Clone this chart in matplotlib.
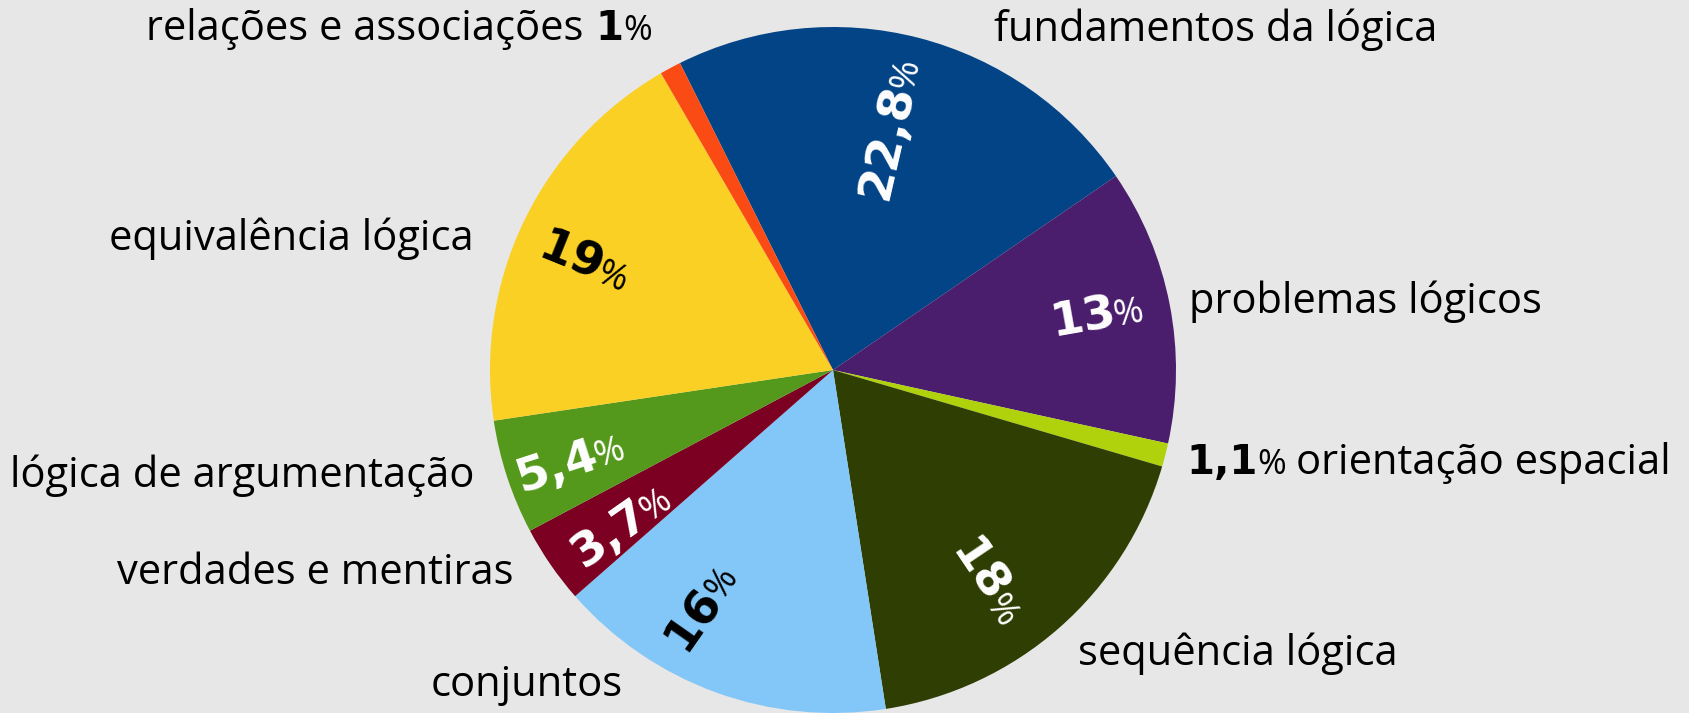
import numpy as np
import matplotlib
matplotlib.use("Agg")
import matplotlib.pyplot as plt

topics = ["fundamentos da lógica", "problemas lógicos", "orientação espacial",
          "sequência lógica", "conjuntos", "verdades e mentiras",
          "lógica de argumentação", "equivalência lógica", "relações e associações"]
shares = [22.8, 13, 1.1, 18, 16, 3.7, 5.4, 19, 1]
share_txt = ["22,8", "13", "1,1", "18", "16", "3,7", "5,4", "19", "1"]
colors = ["#034486", "#4a1e6d", "#b0d20c", "#2f3e03", "#82c7f8",
          "#7b0021", "#55991c", "#fad024", "#fb4b14"]

W, H = 1690, 713
fig = plt.figure(figsize=(W / 100, H / 100), dpi=100)
fig.patch.set_facecolor("#e7e7e7")
ax = fig.add_axes([0, 0, 1, 1])
ax.pie(shares, colors=colors, startangle=116.5, counterclock=False,
       center=(833, H - 370), radius=343, wedgeprops=dict(linewidth=0))
ax.set_xlim(0, W)
ax.set_ylim(0, H)
ax.set_aspect("auto")
ax.axis("off")
rend = fig.canvas.get_renderer()

NUM = dict(family="DejaVu Sans", weight="bold", fontsize=34)
PCT = dict(family="Open Sans", fontsize=26)
LAB = dict(family="Open Sans", fontsize=30)
NUMS = dict(family="DejaVu Sans", weight="bold", fontsize=29)
LABP = dict(family="Open Sans", fontsize=25)


def width(s, kw):
    t = ax.text(0, 0, s, **kw)
    w = t.get_window_extent(rend).width
    t.remove()
    return w


def runs(x, y, parts, rot=0, ha="center", dy=0, color="black"):
    # x, y: image pixels (y from top); parts: (text, style) or a gap in px
    ws = [p if isinstance(p, (int, float)) else width(p[0], p[1]) for p in parts]
    tot = sum(ws)
    off = {"left": 0, "center": -tot / 2, "right": -tot}[ha]
    a = np.radians(rot)
    ux, uy = np.cos(a), np.sin(a)
    px, py = -uy, ux
    y0 = H - y
    for p, w in zip(parts, ws):
        if not isinstance(p, (int, float)):
            bx = x + ux * off - px * dy
            by = y0 + uy * off - py * dy
            ax.text(bx, by, p[0], rotation=rot, rotation_mode="anchor",
                    ha="left", va="baseline", color=color, **p[1])
        off += w


# percentage labels inside the wedges: (index, centre x, centre y, rotation, colour)
inner = [(0, 886, 128, 77, "white"), (1, 1096, 312, 10, "white"),
         (3, 989, 581, -56, "white"), (4, 698, 605, 55, "black"),
         (5, 619, 523, 35, "white"), (6, 569, 459, 18, "white"),
         (7, 585, 259, -22, "black")]
for i, cx, cy, rot, col in inner:
    runs(cx, cy, [(share_txt[i], NUM), -3, ("%", PCT)], rot=rot, dy=17, color=col)

# outer category labels (baseline positions)
runs(994, 41, [(topics[0], LAB)], ha="left")
runs(1189, 313, [(topics[1], LAB)], ha="left")
runs(1186, 474, [(share_txt[2], NUMS), 0, ("%", LABP), 10, (topics[2], LAB)], ha="left")
runs(1078, 665, [(topics[3], LAB)], ha="left")
runs(431, 696, [(topics[4], LAB)], ha="left")
runs(514, 584, [(topics[5], LAB)], ha="right")
runs(474, 487, [(topics[6], LAB)], ha="right")
runs(474, 250, [(topics[7], LAB)], ha="right")
runs(652, 40, [(topics[8], LAB), 12, (share_txt[8], NUMS), 0, ("%", LABP)], ha="right")

fig.savefig("out.png", dpi=100, facecolor=fig.get_facecolor())
